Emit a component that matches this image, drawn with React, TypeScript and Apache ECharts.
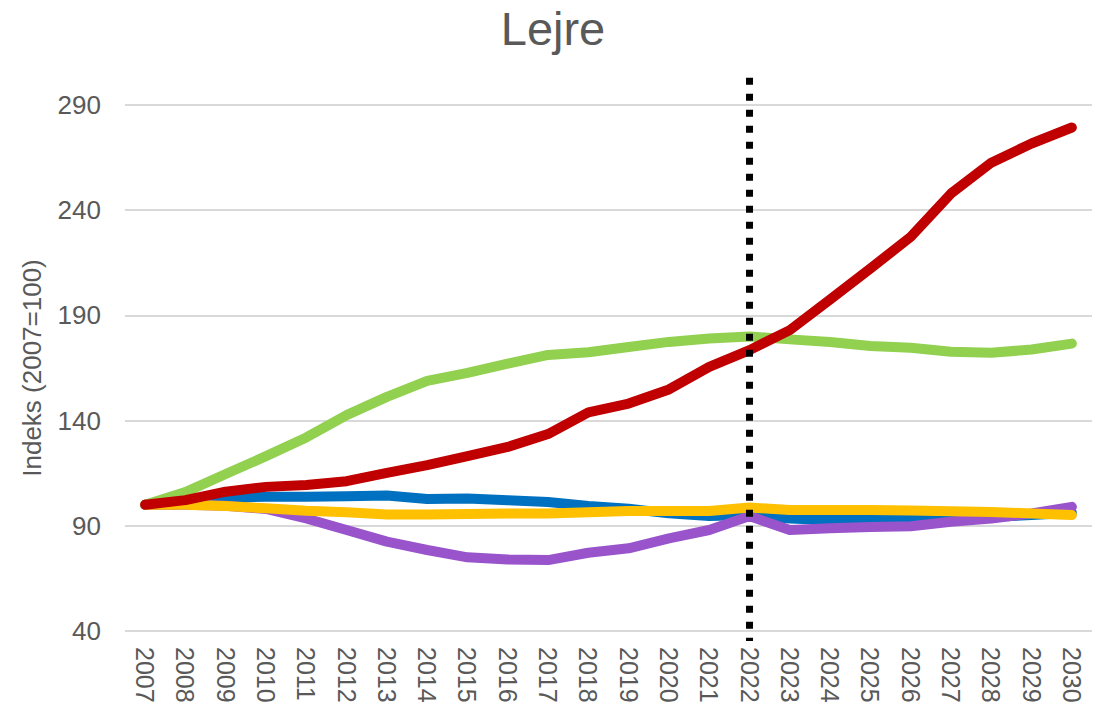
import React, { useEffect, useRef } from "react";
import * as echarts from "echarts";

const years = ["2007","2008","2009","2010","2011","2012","2013","2014","2015","2016","2017","2018","2019","2020","2021","2022","2023","2024","2025","2026","2027","2028","2029","2030"];

const blueValues = [100, 101.5, 103.3, 103.8, 103.8, 104.1, 104.4, 102.7, 103, 102.2, 101.3, 99.4, 98.1, 95.9, 94.6, 95.1, 93.5, 92.7, 93, 93.4, 94, 94.3, 95.1, 96.2];
const purpleValues = [100, 100, 99.5, 98, 93.5, 88, 82.5, 78.5, 75, 74, 73.7, 77.2, 79.3, 84, 88, 94.6, 88, 88.8, 89.4, 89.8, 91.9, 93.5, 95.9, 99];
const yellowValues = [100, 100, 99.4, 98.3, 97.1, 96.4, 95.4, 95.4, 95.6, 95.9, 95.9, 96.4, 97, 97, 97, 98.7, 97.5, 97.5, 97.5, 97.3, 96.9, 96.6, 95.9, 95.1];
const greenValues = [100, 106, 114.6, 123.1, 132, 142.6, 151.3, 158.9, 162.7, 167.1, 171.2, 172.5, 175, 177.4, 179, 180, 178.6, 177.4, 175.5, 174.6, 172.7, 172.2, 173.8, 176.6];
const redValues = [100, 102.2, 106.2, 108.5, 109.4, 111.2, 115.2, 118.8, 123.1, 127.5, 133.6, 143.9, 148.1, 154.8, 165.5, 173.5, 183, 197.6, 212.3, 227.3, 247.9, 262.6, 271.7, 279.3];

const yTicks = { min: 40, max: 290, interval: 50 };
const markerYear = "2022";
const markerRange = [35.2, 303];

const seriesDefs = [
  { name: "Serie 1", color: "#0070C0", data: blueValues },
  { name: "Serie 2", color: "#9954CC", data: purpleValues },
  { name: "Serie 3", color: "#FFC000", data: yellowValues },
  { name: "Serie 4", color: "#92D050", data: greenValues },
  { name: "Serie 5", color: "#C00000", data: redValues },
];

export default function App() {
  const ref = useRef<HTMLDivElement>(null);
  useEffect(() => {
    if (!ref.current) return;
    const chart = echarts.init(ref.current, undefined, { renderer: "svg" });
    const font = "'Liberation Sans', Arial, sans-serif";
    chart.setOption({
      animation: false,
      backgroundColor: "#ffffff",
      title: {
        text: "Lejre",
        left: "center",
        top: 0,
        textStyle: { fontFamily: font, fontSize: 47, fontWeight: "normal", color: "#595959" },
      },
      grid: { left: 125, right: 14, top: 105, bottom: 77 },
      xAxis: {
        type: "category",
        data: years,
        boundaryGap: true,
        axisLine: { show: false },
        axisTick: { show: false },
        axisLabel: {
          rotate: -90,
          margin: 16,
          fontFamily: font,
          fontSize: 25,
          color: "#595959",
          interval: 0,
        },
      },
      yAxis: {
        type: "value",
        min: yTicks.min,
        max: yTicks.max,
        interval: yTicks.interval,
        name: "Indeks (2007=100)",
        nameLocation: "middle",
        nameRotate: 90,
        nameGap: 80,
        nameTextStyle: { fontFamily: font, fontSize: 26, color: "#595959" },
        axisLine: { show: false },
        axisTick: { show: false },
        axisLabel: { margin: 24, fontFamily: font, fontSize: 26, color: "#595959" },
        splitLine: { lineStyle: { color: "#d9d9d9", width: 2 } },
      },
      series: [
        ...seriesDefs.map((s) => ({
          name: s.name,
          type: "line",
          data: s.data,
          symbol: "none",
          smooth: false,
          lineStyle: { color: s.color, width: 10, cap: "round", join: "round" },
          itemStyle: { color: s.color },
        })),
        {
          type: "custom",
          silent: true,
          clip: false,
          z: 10,
          encode: { x: 0, y: [1, 2] },
          data: [[markerYear, markerRange[0], markerRange[1]]],
          renderItem: (params: any, api: any) => {
            const x = api.value(0);
            const p1 = api.coord([x, api.value(2)]);
            const p2 = api.coord([x, api.value(1)]);
            return {
              type: "line",
              shape: { x1: p1[0], y1: p1[1], x2: p2[0], y2: p2[1] },
              style: { stroke: "#000000", lineWidth: 7, lineDash: [7, 9] },
            };
          },
        },
      ],
    });
    return () => chart.dispose();
  }, []);
  return (
    <div
      ref={ref}
      style={{ position: "fixed", left: 0, top: 0, width: 1106, height: 708, background: "#fff" }}
    />
  );
}
